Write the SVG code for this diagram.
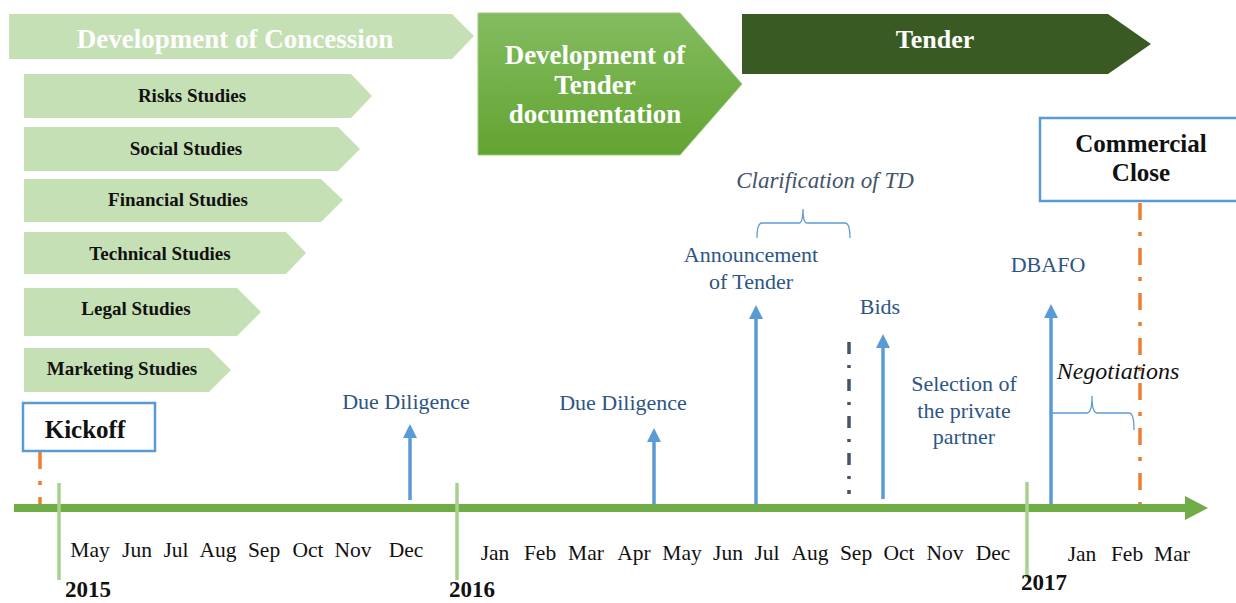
<svg xmlns="http://www.w3.org/2000/svg" width="1236" height="603" viewBox="0 0 1236 603">
<defs>
<linearGradient id="gTD" x1="0" y1="0" x2="0" y2="1">
<stop offset="0" stop-color="#84bc60"/>
<stop offset="1" stop-color="#62a431"/>
</linearGradient>
<style>
.light{fill:#c5e0b4}
.phase{font-family:"Liberation Serif",serif;font-weight:bold;fill:#fff;text-anchor:middle}
.study{font-family:"Liberation Serif",serif;font-weight:bold;font-size:19px;fill:#111;text-anchor:middle}
.box{fill:#fff;stroke:#5b9bd5;stroke-width:2.5}
.boxt{font-family:"Liberation Serif",serif;font-weight:bold;font-size:25px;fill:#111;text-anchor:middle}
.lbl{font-family:"Liberation Serif",serif;font-size:22px;fill:#2e5585;text-anchor:middle}
.mon{font-family:"Liberation Serif",serif;font-size:21.5px;fill:#111;text-anchor:middle}
.yr{font-family:"Liberation Serif",serif;font-weight:bold;font-size:23px;fill:#111;text-anchor:middle}
.arr{stroke:#5b9bd5;stroke-width:3.5;fill:none}
.head{fill:#5b9bd5}
.tick{stroke:#a9d18e;stroke-width:3.5}
.brace{fill:none;stroke:#5b9bd5;stroke-width:1.3}
.orange{stroke:#ed7d31;stroke-width:3.5;stroke-dasharray:17 12 4 12}
</style>
</defs>

<g id="dev-concession">
<polygon class="light" points="9,14 452,14 474,36 452,59 9,59"/>
<text class="phase" x="235" y="48" font-size="27">Development of Concession</text>
</g>
<g id="risks">
<polygon class="light" points="24,74 351,74 372,96 351,118 24,118"/>
<text class="study" x="192" y="102">Risks Studies</text>
</g>
<g id="social">
<polygon class="light" points="24,127 338,127 360,149 338,171 24,171"/>
<text class="study" x="186" y="155">Social Studies</text>
</g>
<g id="financial">
<polygon class="light" points="24,179 321,179 343,200 321,222 24,222"/>
<text class="study" x="178" y="206">Financial Studies</text>
</g>
<g id="technical">
<polygon class="light" points="24,232 286,232 306,253 286,274 24,274"/>
<text class="study" x="160" y="260">Technical Studies</text>
</g>
<g id="legal">
<polygon class="light" points="24,288 237,288 261,312 237,336 24,336"/>
<text class="study" x="136" y="315">Legal Studies</text>
</g>
<g id="marketing">
<polygon class="light" points="24,348 209,348 231,370 209,392 24,392"/>
<text class="study" x="122" y="375">Marketing Studies</text>
</g>

<g id="dev-tender-doc">
<polygon fill="url(#gTD)" stroke="#9cc97f" stroke-width="1" points="478,13 680,13 742,84 680,155 478,155"/>
<text class="phase" x="595" y="64" font-size="27">Development of</text>
<text class="phase" x="595" y="94" font-size="27">Tender</text>
<text class="phase" x="595" y="123" font-size="27">documentation</text>
</g>

<g id="tender">
<polygon fill="#3a5a24" points="742,14 1108,14 1151,44 1108,74 742,74"/>
<text class="phase" x="935" y="48" font-size="26">Tender</text>
</g>

<g id="kickoff">
<rect class="box" x="23" y="403" width="132" height="48"/>
<text class="boxt" x="85" y="438">Kickoff</text>
</g>

<g id="commercial-close">
<rect class="box" x="1040" y="118" width="200" height="83"/>
<text class="boxt" x="1141" y="152">Commercial</text>
<text class="boxt" x="1141" y="181">Close</text>
</g>

<g id="connectors">
<line class="orange" x1="40" y1="452" x2="40" y2="504"/>
<line class="orange" x1="1140" y1="203" x2="1140" y2="504"/>
<line x1="849" y1="342" x2="849" y2="494" stroke="#44546a" stroke-width="3.5" stroke-dasharray="12 11 3 11"/>
<line x1="14" y1="508" x2="1188" y2="508" stroke="#70ad47" stroke-width="8"/>
<polygon fill="#70ad47" points="1185,496 1208,508 1185,520"/>
<line class="tick" x1="59" y1="483" x2="59" y2="580"/>
<line class="tick" x1="457" y1="483" x2="457" y2="580"/>
<line class="tick" x1="1027" y1="482" x2="1027" y2="578"/>
<line class="arr" x1="410" y1="500" x2="410" y2="432"/>
<polygon class="head" points="410,424 403,438 417,438"/>
<line class="arr" x1="654" y1="504" x2="654" y2="436"/>
<polygon class="head" points="654,428 647,442 661,442"/>
<line class="arr" x1="756" y1="504" x2="756" y2="313"/>
<polygon class="head" points="756,305 749,319 763,319"/>
<line class="arr" x1="883" y1="499" x2="883" y2="342"/>
<polygon class="head" points="883,334 876,348 890,348"/>
<line class="arr" x1="1051" y1="504" x2="1051" y2="312"/>
<polygon class="head" points="1051,304 1044,318 1058,318"/>
<path class="brace" d="M757,238 Q757,223 762,223 L799,223 Q803,223 803,209 Q803,223 807,223 L845,223 Q850,223 850,238"/>
<path class="brace" d="M1052,413 L1087,413 Q1092,413 1092,396 Q1092,413 1097,413 L1129,413 Q1134,413 1134,430"/>
</g>

<g id="labels">
<text class="lbl" x="406" y="409">Due Diligence</text>
<text class="lbl" x="623" y="410">Due Diligence</text>
<text class="lbl" x="751" y="262">Announcement</text>
<text class="lbl" x="751" y="289">of Tender</text>
<text class="lbl" x="880" y="314">Bids</text>
<text class="lbl" x="1048" y="272">DBAFO</text>
<text class="lbl" x="964" y="391">Selection of</text>
<text class="lbl" x="964" y="418">the private</text>
<text class="lbl" x="964" y="444">partner</text>
<text x="825" y="188" font-family="Liberation Serif, serif" font-style="italic" font-size="23" fill="#44546a" text-anchor="middle">Clarification of TD</text>
<text x="1118" y="379" font-family="Liberation Serif, serif" font-style="italic" font-size="24" fill="#111" text-anchor="middle">Negotiations</text>
</g>

<g id="months">
<text class="mon" x="90" y="557">May</text>
<text class="mon" x="137" y="557">Jun</text>
<text class="mon" x="176" y="557">Jul</text>
<text class="mon" x="218" y="557">Aug</text>
<text class="mon" x="264" y="557">Sep</text>
<text class="mon" x="308" y="557">Oct</text>
<text class="mon" x="353" y="557">Nov</text>
<text class="mon" x="406" y="557">Dec</text>
<text class="mon" x="495" y="560">Jan</text>
<text class="mon" x="540" y="560">Feb</text>
<text class="mon" x="586" y="560">Mar</text>
<text class="mon" x="634" y="560">Apr</text>
<text class="mon" x="682" y="560">May</text>
<text class="mon" x="728" y="560">Jun</text>
<text class="mon" x="767" y="560">Jul</text>
<text class="mon" x="810" y="560">Aug</text>
<text class="mon" x="856" y="560">Sep</text>
<text class="mon" x="899" y="560">Oct</text>
<text class="mon" x="945" y="560">Nov</text>
<text class="mon" x="993" y="560">Dec</text>
<text class="mon" x="1082" y="561">Jan</text>
<text class="mon" x="1127" y="561">Feb</text>
<text class="mon" x="1172" y="561">Mar</text>
<text class="yr" x="88" y="597">2015</text>
<text class="yr" x="472" y="597">2016</text>
<text class="yr" x="1044" y="590">2017</text>
</g>
</svg>
